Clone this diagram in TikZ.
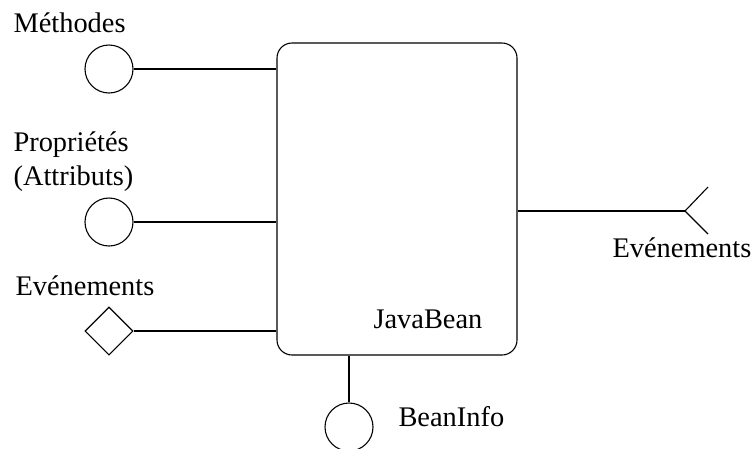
\documentclass[tikz,border=0pt]{standalone}
\usepackage{fontspec}
\setmainfont{Liberation Serif}
\usetikzlibrary{shapes.geometric}
\begin{document}
\begin{tikzpicture}[x=1pt,y=-1pt,line width=1.1pt,
  lbl/.style={anchor=base west,inner sep=0pt,font=\fontsize{28.4}{32}\selectfont},
  port/.style={circle,draw,minimum size=48pt,inner sep=0pt},
  evport/.style={diamond,draw,minimum size=48pt,inner sep=0pt}]
\useasboundingbox (0,0) rectangle (755,448);
% component body
\node[draw,rounded corners=15pt,minimum width=240pt,minimum height=312pt,inner sep=0pt] (bean) at (397,199) {};
% interface ports
\node[port] (meth) at (109,69) {};
\node[port] (prop) at (109,222) {};
\node[evport] (evin) at (109,331) {};
\node[port] (info) at (349,427) {};
\coordinate (fork) at (685,211);
\coordinate (forkup) at (708,187);
\coordinate (forkdn) at (708,234);
% connectors
\draw (meth.east) -- (meth.east -| bean.west);
\draw (prop.east) -- (prop.east -| bean.west);
\draw (evin.east) -- (evin.east -| bean.west);
\draw (info.north) -- (info.north |- bean.south);
\draw (fork -| bean.east) -- (fork);
\draw (forkup) -- (fork) -- (forkdn);
% labels
\node[lbl] (tmeth) at (13,32) {Méthodes};
\node[lbl] (tprop) at (13,151) {Propriétés};
\node[lbl] (tattr) at (13,185) {(Attributs)};
\node[lbl] (tevin) at (15,295) {Evénements};
\node[lbl] (tevout) at (612,257) {Evénements};
\node[lbl] (tbean) at (373,328) {JavaBean};
\node[lbl] (tinfo) at (398,426) {BeanInfo};
\end{tikzpicture}
\end{document}
